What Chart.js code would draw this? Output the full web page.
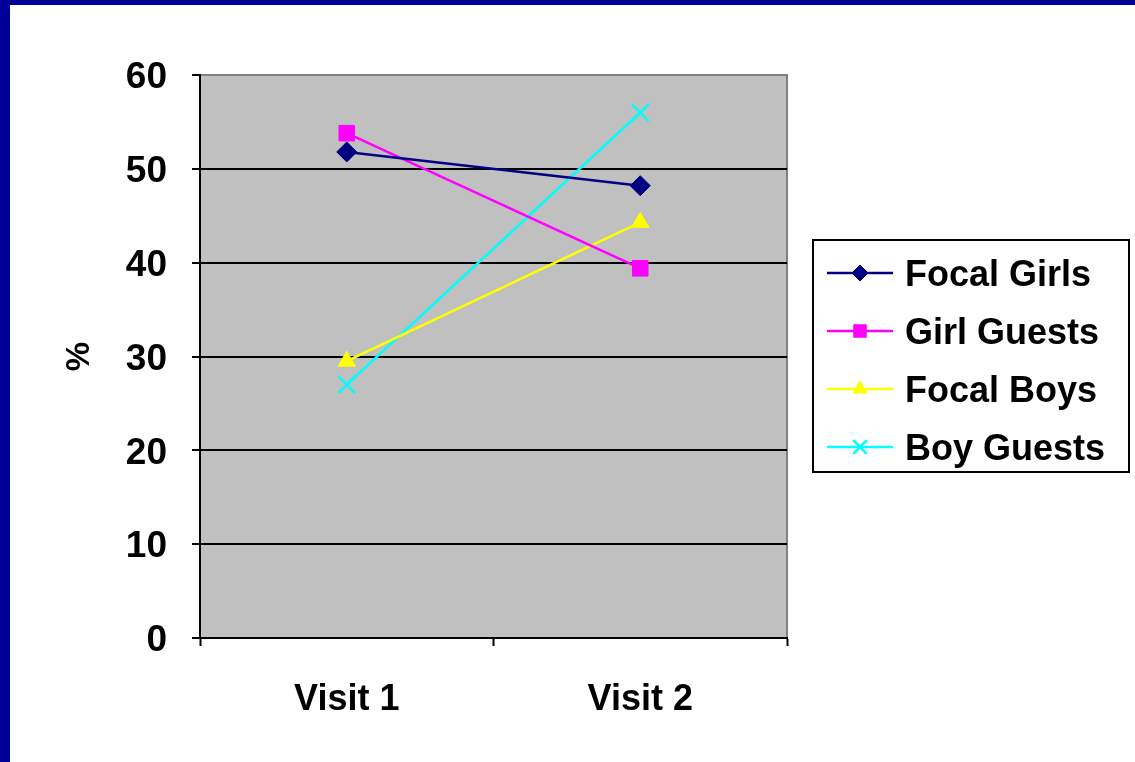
<!DOCTYPE html>
<html>
<head>
<meta charset="utf-8">
<script src="https://cdn.jsdelivr.net/npm/chart.js@4.4.0/dist/chart.umd.min.js"></script>
<style>
    html, body { margin: 0; padding: 0; background: #fff; }
    #wrap { position: relative; width: 1135px; height: 762px; overflow: hidden; background: #fff; }
    .edge { position: absolute; background: #000099; }
    #c { position: absolute; left: 0; top: 0; }
</style>
</head>
<body>
<div id="wrap">
    <div class="edge" style="left:0;top:0;width:1135px;height:5px"></div>
    <div class="edge" style="left:0;top:0;width:10px;height:762px"></div>
    <canvas id="c" width="1135" height="762"></canvas>
</div>
<script>
// ====== DATA ======
const visits = ['Visit 1', 'Visit 2']
const seriesNames = ['Focal Girls', 'Girl Guests', 'Focal Boys', 'Boy Guests']
const focalGirls = [51.8, 48.2]
const girlGuests = [53.8, 39.4]
const focalBoys = [29.5, 44.3]
const boyGuests = [27.0, 56.0]
const yMin = 0
const yMax = 60
const yStep = 10

const FONT = '"Liberation Sans", Arial, sans-serif'
Chart.defaults.font.family = FONT
Chart.defaults.font.weight = 'bold'
Chart.defaults.color = '#000'

// gray plot area with gray top/right edges
const plotBg = {
    id: 'plotBg',
    beforeDraw(chart) {
        const { ctx, chartArea: a } = chart
        ctx.save()
        ctx.fillStyle = '#c0c0c0'
        ctx.fillRect(a.left, a.top, a.right - a.left, a.bottom - a.top)
        ctx.strokeStyle = '#808080'
        ctx.lineWidth = 2
        ctx.beginPath()
        ctx.moveTo(a.left, a.top)
        ctx.lineTo(a.right, a.top)
        ctx.lineTo(a.right, a.bottom)
        ctx.stroke()
        ctx.restore()
    },
}

// boxed legend on the right
const boxLegend = {
    id: 'boxLegend',
    afterDraw(chart) {
        const { ctx, chartArea: a } = chart
        const x0 = a.right + 26
        const y0 = 240
        const w = 316
        const h = 232
        ctx.save()
        ctx.fillStyle = '#fff'
        ctx.fillRect(x0, y0, w, h)
        ctx.strokeStyle = '#000'
        ctx.lineWidth = 2
        ctx.strokeRect(x0, y0, w, h)
        chart.data.datasets.forEach((ds, i) => {
            const cy = y0 + 33 + i * 58
            ctx.strokeStyle = ds.borderColor
            ctx.lineWidth = 2.5
            ctx.beginPath()
            ctx.moveTo(x0 + 14, cy)
            ctx.lineTo(x0 + 80, cy)
            ctx.stroke()
            ctx.fillStyle = ds.pointBackgroundColor
            ctx.strokeStyle = ds.pointBorderColor
            ctx.lineWidth = ds.pointBorderWidth
            Chart.helpers.drawPoint(ctx, {
                pointStyle: ds.pointStyle,
                radius: ds.pointRadius * 0.8,
                borderWidth: ds.pointBorderWidth,
                rotation: 0,
            }, x0 + 47, cy)
            ctx.fillStyle = '#000'
            ctx.font = 'bold 36px ' + FONT
            ctx.textBaseline = 'alphabetic'
            ctx.textAlign = 'left'
            ctx.fillText(ds.label, x0 + 92, cy + 13)
        })
        ctx.restore()
    },
}

const mk = (label, data, color, style, radius, bw) => ({
    label,
    data,
    borderColor: color,
    backgroundColor: color,
    pointBackgroundColor: color,
    pointBorderColor: color,
    pointStyle: style,
    pointRadius: radius,
    pointHoverRadius: radius,
    pointBorderWidth: bw,
    borderWidth: 2.5,
    tension: 0,
    fill: false,
})

new Chart(document.getElementById('c'), {
    type: 'line',
    data: {
        labels: visits,
        datasets: [
            mk(seriesNames[0], focalGirls, '#000080', 'rectRot', 10, 1),
            mk(seriesNames[1], girlGuests, '#ff00ff', 'rect', 11, 1),
            mk(seriesNames[2], focalBoys, '#ffff00', 'triangle', 10, 1),
            mk(seriesNames[3], boyGuests, '#00ffff', 'crossRot', 12, 2.5),
        ],
    },
    options: {
        responsive: false,
        devicePixelRatio: 1,
        animation: false,
        layout: { padding: { left: 60, top: 75, right: 348, bottom: 0 } },
        plugins: {
            legend: { display: false },
            tooltip: { enabled: false },
        },
        scales: {
            x: {
                offset: true,
                grid: {
                    offset: true,
                    drawOnChartArea: false,
                    tickLength: 8,
                    tickColor: '#000',
                    tickWidth: 2,
                },
                border: { color: '#000', width: 2 },
                ticks: { font: { size: 36, weight: 'bold' }, color: '#000', padding: 32 },
                afterFit: (s) => { s.height = 124 },
            },
            y: {
                min: yMin,
                max: yMax,
                ticks: { stepSize: yStep, font: { size: 37, weight: 'bold' }, color: '#000', padding: 25, labelOffset: 3 },
                grid: {
                    color: (c) => (c.tick && c.tick.value === yMax ? '#808080' : '#000'),
                    lineWidth: 2,
                    tickLength: 8,
                    tickColor: '#000',
                    tickWidth: 2,
                },
                border: { color: '#000', width: 2 },
                title: { display: true, text: '%', font: { size: 33, weight: 'bold' }, color: '#000', padding: 0 },
                afterFit: (s) => { s.width = 140 },
            },
        },
    },
    plugins: [plotBg, boxLegend],
})
</script>
</body>
</html>
